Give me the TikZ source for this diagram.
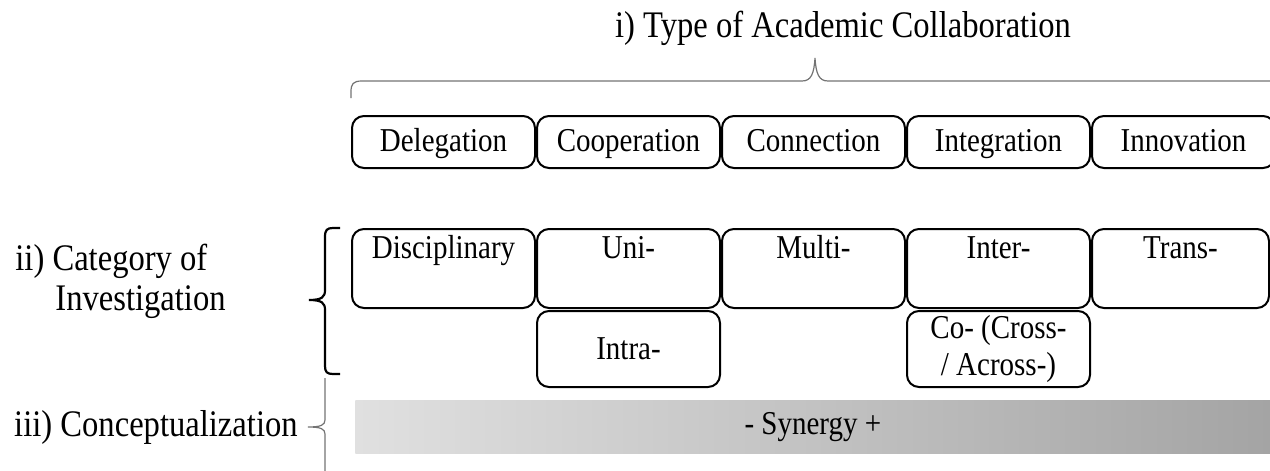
\documentclass[tikz,border=0pt]{standalone}
\usepackage{graphicx}
\usepackage{fontspec}
\setmainfont{Liberation Serif}
% slightly taller lettering
\newcommand\tallt[1]{\scalebox{1}[1.15]{#1}}
\begin{document}
\begin{tikzpicture}[x=0.5pt,y=-0.5pt,
  box/.style={draw, line width=1pt, rounded corners=6pt, minimum width=91.5pt,
    inner xsep=0pt, font=\fontsize{14.5}{18.5}\selectfont},
  boxA/.style={box, inner ysep=0pt, text height=17.5pt, text depth=8.5pt},
  boxB/.style={box, inner ysep=4pt, text height=10.5pt, text depth=21pt},
  boxC/.style={box, minimum height=38pt, inner ysep=0pt, align=center},
  lab/.style={inner sep=0pt, font=\fontsize{16.3}{20}\selectfont},
  lightbrace/.style={draw=black!55, line width=0.6pt},
  darkbrace/.style={draw=black, line width=1.1pt},
]
\definecolor{synL}{RGB}{224,224,224}
\definecolor{synR}{RGB}{164,164,164}
\useasboundingbox (0,0) rectangle (1270,471);
\clip (0,0) rectangle (1270,471);

% heading and top brace
\node[lab, anchor=base] (ttl) at (843,38) {\tallt{i) Type of Academic Collaboration}};
\draw[lightbrace] (351,98) -- (351,92) .. controls (351,84) and (353,81) .. (362,81)
  -- (802,81) .. controls (811,81) and (814,74) .. (815,58)
  .. controls (816,74) and (819,81) .. (828,81) -- (1290,81);

% type of collaboration
\node[boxA] (dele) at (443.5,142) {\tallt{Delegation}};
\node[boxA] (coop) at (628.5,142) {\tallt{Cooperation}};
\node[boxA] (conn) at (813.5,142) {\tallt{Connection}};
\node[boxA] (inte) at (998.5,142) {\tallt{Integration}};
\node[boxA] (inno) at (1183.5,142) {\tallt{Innovation}};

% category of investigation
\node[boxB] (disc) at (443.5,268.5) {\tallt{Disciplinary}};
\node[boxB] (uni) at (628.5,268.5) {\tallt{Uni-}};
\node[boxB] (mult) at (813.5,268.5) {\tallt{Multi-}};
\node[boxB] (inter) at (998.5,268.5) {\tallt{Inter-}};
\node[boxB, minimum width=88.5pt] (trans) at (1180.5,268.5) {\tallt{Trans-}};
\node[boxC] (intra) at (628.5,349) {\tallt{Intra-}};
\node[boxC] (cross) at (998.5,349) {\tallt{Co- (Cross-}\\\tallt{/ Across-)}};

% synergy scale
\node[anchor=north west, minimum width=457.5pt, minimum height=26.5pt, inner sep=0pt,
  left color=synL, right color=synR, font=\fontsize{14.5}{17}\selectfont]
  (syn) at (355,400) {\tallt{- Synergy +}};

% left labels and braces
\node[lab, anchor=north west, align=left] (catg) at (15,244)
  {\tallt{ii) Category of}\\\hspace*{20pt}\tallt{Investigation}};
\draw[darkbrace] (340,228) -- (333,228) .. controls (327,228) and (325,230) .. (325,237)
  -- (325,290) .. controls (325,297) and (322,300) .. (309,300)
  .. controls (322,300) and (325,303) .. (325,310)
  -- (325,366) .. controls (325,372) and (327,374) .. (333,374) -- (340,374);

\node[lab, anchor=east] (conc) at (298,427) {\tallt{iii) Conceptualization}};
\draw[lightbrace] (325,378) -- (325,420) .. controls (325,425) and (321,427) .. (308,427)
  .. controls (321,427) and (325,429) .. (325,434) -- (325,480);
\end{tikzpicture}
\end{document}
